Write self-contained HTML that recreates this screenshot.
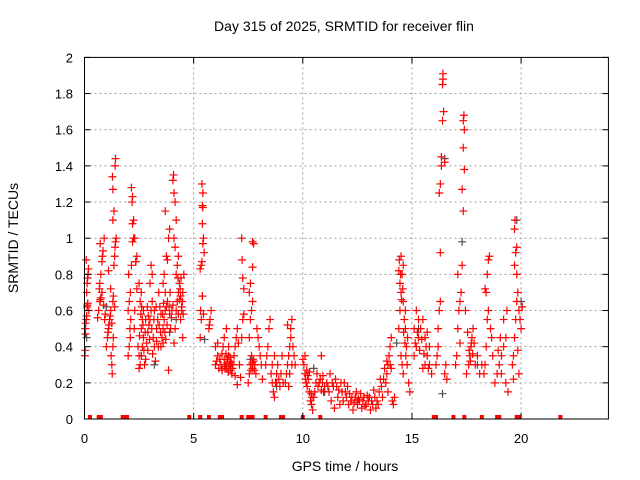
<!DOCTYPE html>
<html><head><meta charset="utf-8"><style>
body{margin:0;background:#fff;}
svg{display:block;font-family:"Liberation Sans",sans-serif;}
</style></head><body>
<svg id="chart" width="640" height="480" xmlns="http://www.w3.org/2000/svg">
<rect width="640" height="480" fill="#fff"/>
<text x="344" y="31" font-size="14" text-anchor="middle">Day 315 of 2025, SRMTID for receiver flin</text>
<text transform="translate(18,238) rotate(-90)" font-size="14" text-anchor="middle">SRMTID / TECUs</text>
<text x="345" y="471" font-size="14" text-anchor="middle">GPS time / hours</text>
<g id="grid"></g><g id="marks"></g><g id="axes"></g>
</svg>
<script>
const xTicks=[0,5,10,15,20];
const yTicks=[0,0.2,0.4,0.6,0.8,1,1.2,1.4,1.6,1.8,2];
const yTickLabels=["0","0.2","0.4","0.6","0.8","1","1.2","1.4","1.6","1.8","2"];
const zeroTimes=[0.25,0.65,0.75,1.75,1.85,1.95,4.8,5.3,5.7,6.2,6.3,7.2,7.5,7.6,7.7,8.3,9.0,9.1,10.0,10.8,16.0,16.1,16.9,17.4,18.2,18.9,19.0,19.8,19.9,21.8];
const redPts=[
[0.02,0.35],[0.03,0.38],[0.05,0.47],[0.04,0.5],[0.06,0.53],[0.08,0.55],[0.1,0.57],[0.12,0.62],[0.13,0.63],[0.15,0.64],[0.1,0.7],[0.12,0.75],[0.14,0.78],[0.16,0.8],[0.18,0.83],[0.08,0.88],[0.2,0.6],
[0.6,0.56],[0.65,0.6],[0.7,0.65],[0.72,0.66],[0.75,0.67],[0.8,0.7],[0.68,0.72],[0.7,0.75],[0.75,0.8],[0.8,0.87],[0.82,0.9],[0.85,0.93],[0.72,0.97],[0.9,1.0],[0.88,0.63],[0.92,0.55],[0.95,0.58],
[1.0,0.4],[1.05,0.45],[1.08,0.48],[1.1,0.5],[1.12,0.52],[1.15,0.55],[1.18,0.57],[1.2,0.6],[1.25,0.3],[1.27,0.25],[1.22,0.35],[1.3,0.65],[1.32,0.68],[1.35,0.85],[1.38,0.9],[1.4,0.95],[1.42,0.98],[1.45,1.0],[1.3,1.1],[1.35,1.15],[1.3,1.27],[1.28,1.34],[1.4,1.4],[1.42,1.44],[1.25,0.53],[1.32,0.45],[1.3,0.4],[1.38,0.62],[1.1,0.82],[1.2,0.72],
[2.0,0.35],[2.05,0.4],[2.1,0.45],[2.08,0.5],[2.12,0.55],[2.0,0.6],[2.05,0.65],[2.1,0.7],[2.02,0.8],[2.15,0.85],[2.35,0.87],[2.4,0.9],[2.2,0.98],[2.25,1.0],[2.2,1.08],[2.25,1.1],[2.18,1.2],[2.2,1.23],[2.15,1.28],[2.3,1.0],[2.35,0.87],[2.4,0.72],[2.3,0.6],[2.28,0.5],[2.45,0.4],[2.5,0.35],
[2.5,0.28],[2.55,0.3],[2.6,0.35],[2.65,0.4],[2.7,0.45],[2.6,0.5],[2.65,0.55],[2.7,0.6],[2.55,0.65],[2.6,0.7],[2.5,0.75],[2.75,0.3],[2.8,0.33],[2.85,0.42],[2.9,0.48],[2.95,0.52],[3.0,0.55],[3.05,0.6],[3.1,0.65],[3.0,0.75],[3.1,0.8],[3.05,0.85],[3.15,0.45],[3.2,0.4],[3.25,0.32],[3.3,0.5],[3.35,0.55],[3.4,0.7],[3.45,0.62],[3.5,0.58],[2.9,0.38],[2.8,0.55],[3.2,0.6],[3.3,0.43],
[2.52,0.46],[2.58,0.58],[2.68,0.52],[2.78,0.48],[2.88,0.62],[2.98,0.44],[3.08,0.5],[3.18,0.55],[3.28,0.62],[3.38,0.4],[3.48,0.48],[2.62,0.62],[2.72,0.38],[2.92,0.57],[3.12,0.36],[3.42,0.52],
[3.5,0.4],[3.55,0.45],[3.6,0.5],[3.65,0.55],[3.7,0.6],[3.75,0.62],[3.8,0.65],[3.7,0.7],[3.6,0.75],[3.65,0.8],[3.8,0.88],[3.75,0.9],[3.85,1.0],[3.9,1.05],[3.7,1.15],[3.9,0.58],[3.95,0.5],[4.0,0.6],[3.85,0.27],[3.6,0.42],[4.05,0.63],
[3.58,0.58],[3.68,0.48],[3.78,0.52],[3.88,0.62],[3.98,0.56],[3.62,0.64],[3.72,0.44],[3.92,0.7],
[4.1,0.42],[4.15,0.5],[4.2,0.6],[4.25,0.65],[4.3,0.7],[4.35,0.75],[4.2,0.8],[4.25,0.85],[4.3,0.9],[4.15,0.95],[4.1,1.0],[4.2,1.1],[4.15,1.2],[4.1,1.25],[4.05,1.32],[4.08,1.35],[4.4,0.55],[4.45,0.62],[4.5,0.7],[4.55,0.8],[4.5,0.45],[4.4,0.68],[4.3,0.58],[4.45,0.6],
[4.35,0.66],[4.38,0.72],[4.42,0.78],[4.48,0.65],[4.52,0.58],[4.28,0.78],
[5.3,0.83],[5.35,0.85],[5.38,0.87],[5.32,0.6],[5.35,0.55],[5.3,0.45],[5.4,0.68],[5.42,0.97],[5.45,1.0],[5.4,1.08],[5.42,1.17],[5.4,1.18],[5.42,1.25],[5.38,1.3],[5.48,0.92],[5.45,0.58],
[5.7,0.5],[5.75,0.55],[5.8,0.6],[5.72,0.52],
[6.0,0.3],[6.05,0.32],[6.1,0.35],[6.15,0.28],[6.2,0.33],[6.0,0.4],[6.1,0.42],[6.25,0.3],[6.3,0.36],[6.35,0.4],[6.4,0.45],[6.45,0.3],[6.5,0.28],[6.55,0.33],[6.6,0.35],[6.65,0.3],[6.7,0.27],[6.5,0.5],[6.6,0.4],[6.75,0.25],[6.8,0.3],[6.85,0.35],[6.9,0.4],[6.95,0.45],[7.0,0.5],[7.05,0.42],[7.1,0.3],[7.15,0.23],[7.0,0.19],[6.9,0.24],[6.4,0.33],[6.3,0.27],[6.7,0.32],
[6.52,0.31],[6.58,0.26],[6.62,0.29],[6.68,0.34],[6.72,0.31],[6.78,0.28],[6.48,0.36],[6.42,0.29],
[7.2,0.45],[7.25,0.55],[7.3,0.72],[7.25,0.78],[7.22,0.88],[7.2,1.0],[7.3,0.58],
[7.5,0.2],[7.55,0.25],[7.6,0.3],[7.65,0.35],[7.7,0.28],[7.75,0.32],[7.8,0.3],[7.55,0.45],[7.6,0.55],[7.65,0.6],[7.7,0.65],[7.55,0.7],[7.6,0.75],[7.7,0.84],[7.75,0.97],[7.7,0.98],[7.9,0.5],[7.95,0.45],[8.0,0.4],[8.05,0.35],[7.85,0.25],[8.1,0.3],[8.15,0.22],
[7.62,0.27],[7.68,0.31],[7.72,0.33],[7.78,0.27],
[8.3,0.3],[8.35,0.35],[8.4,0.4],[8.45,0.5],[8.5,0.55],[8.55,0.25],[8.6,0.2],[8.65,0.15],[8.7,0.12],[8.75,0.2],[8.8,0.25],[8.85,0.3],[8.9,0.22],[8.95,0.18],[9.0,0.25],[9.05,0.35],[8.6,0.3],[8.7,0.35],[8.8,0.2],[9.1,0.2],
[9.2,0.2],[9.25,0.25],[9.3,0.3],[9.35,0.35],[9.4,0.4],[9.45,0.5],[9.5,0.55],[9.3,0.52],[9.4,0.25],[9.5,0.3],[9.6,0.35],[9.55,0.4],[9.45,0.45],[9.35,0.18],[9.65,0.3],
[10.0,0.33],[10.05,0.3],[10.1,0.25],[10.15,0.2],[10.2,0.18],[10.25,0.22],[10.3,0.15],[10.35,0.1],[10.4,0.08],[10.45,0.05],[10.5,0.12],[10.55,0.15],[10.6,0.2],[10.65,0.25],[10.7,0.18],[10.8,0.22],[10.85,0.35],[10.9,0.2],[10.95,0.15],[11.0,0.18],[10.1,0.35],[10.3,0.26],
[10.12,0.22],[10.18,0.27],[10.22,0.24],[10.38,0.14],[10.42,0.12],[10.75,0.2],[10.85,0.16],[10.92,0.24],
[11.1,0.2],[11.2,0.15],[11.3,0.1],[11.4,0.18],[11.5,0.22],[11.6,0.12],[11.7,0.08],[11.8,0.15],[11.9,0.2],[12.0,0.12],[12.1,0.08],[12.2,0.1],[12.3,0.05],[12.4,0.12],[12.5,0.08],[12.6,0.1],[12.7,0.06],[12.8,0.12],[12.9,0.08],[13.0,0.1],[13.1,0.05],[13.2,0.08],[13.3,0.12],[13.4,0.1],[13.5,0.15],[13.6,0.18],[13.7,0.22],[11.25,0.25],[11.55,0.18],[11.85,0.1],[12.15,0.14],[12.45,0.15],[12.75,0.1],[13.05,0.12],[13.35,0.06],[13.65,0.12],[11.45,0.06],[12.05,0.18],[12.65,0.14],[13.25,0.16],
[11.15,0.18],[11.35,0.2],[11.65,0.16],[11.75,0.2],[11.95,0.15],[12.25,0.12],[12.35,0.09],[12.55,0.11],[12.85,0.07],[12.95,0.13],[13.15,0.1],[13.45,0.08],[13.55,0.22],[13.75,0.28],
[13.8,0.2],[13.85,0.25],[13.9,0.3],[13.95,0.35],[14.0,0.4],[14.05,0.45],[14.0,0.3],[13.9,0.15],[14.1,0.1],[14.15,0.08],[14.2,0.12],[13.85,0.32],[14.05,0.28],
[14.4,0.5],[14.45,0.6],[14.5,0.7],[14.55,0.8],[14.6,0.85],[14.5,0.9],[14.45,0.75],[14.6,0.65],[14.65,0.55],[14.7,0.5],[14.75,0.4],[14.5,0.35],[14.55,0.3],[14.6,0.25],[14.8,0.45],[14.85,0.2],[14.9,0.15],[14.7,0.6],[14.4,0.82],
[14.42,0.88],[14.48,0.8],[14.52,0.66],[14.58,0.72],[14.62,0.48],[14.68,0.42],[14.72,0.35],[14.78,0.3],
[15.1,0.35],[15.2,0.4],[15.3,0.45],[15.4,0.5],[15.5,0.55],[15.6,0.3],[15.7,0.35],[15.8,0.4],[15.9,0.25],[15.2,0.6],[15.3,0.55],[15.5,0.28],[15.6,0.45],[15.7,0.48],[15.1,0.5],[15.8,0.3],
[15.15,0.42],[15.25,0.48],[15.35,0.38],[15.45,0.44],[15.55,0.36],[15.65,0.4],[15.75,0.28],
[16.1,0.3],[16.15,0.35],[16.2,0.5],[16.25,0.6],[16.3,0.65],[16.2,0.4],[16.3,0.92],[16.25,1.25],[16.3,1.3],[16.35,1.4],[16.35,1.45],[16.4,1.65],[16.45,1.7],[16.4,1.85],[16.42,1.88],[16.42,1.91],[16.5,0.25],[16.55,0.3],[16.6,0.22],[16.5,1.42],
[17.0,0.3],[17.05,0.35],[17.1,0.5],[17.15,0.6],[17.2,0.65],[17.25,0.7],[17.1,0.8],[17.3,0.85],[17.35,1.15],[17.3,1.27],[17.4,1.38],[17.35,1.5],[17.4,1.6],[17.35,1.65],[17.38,1.68],[17.2,0.42],[17.45,0.6],
[17.5,0.25],[17.6,0.3],[17.65,0.35],[17.7,0.4],[17.75,0.45],[17.8,0.5],[17.9,0.3],[18.0,0.35],[18.1,0.25],[17.55,0.48],[17.85,0.42],[18.2,0.3],
[17.62,0.38],[17.68,0.32],[17.72,0.42],[17.78,0.36],
[18.3,0.25],[18.35,0.3],[18.4,0.4],[18.45,0.55],[18.5,0.6],[18.4,0.7],[18.45,0.8],[18.5,0.88],[18.55,0.9],[18.6,0.5],[18.65,0.45],[18.7,0.35],[18.35,0.72],
[18.8,0.2],[18.9,0.25],[19.0,0.3],[19.1,0.35],[19.2,0.4],[19.3,0.45],[19.35,0.6],[19.4,0.15],[19.3,0.2],[19.1,0.25],[19.2,0.55],[18.95,0.38],[19.05,0.45],
[19.6,0.3],[19.65,0.35],[19.7,0.45],[19.75,0.55],[19.8,0.65],[19.85,0.7],[19.8,0.8],[19.7,0.85],[19.75,0.92],[19.8,0.95],[19.7,1.05],[19.72,1.1],[19.9,0.6],[19.95,0.55],[20.0,0.5],[20.05,0.62],[19.9,0.25],[19.85,0.38],[19.65,0.22]
];
const grayPts=[[0.1,0.45],[1.0,0.62],[2.6,0.35],[3.2,0.3],[4.2,0.55],[5.4,0.68],[5.5,0.44],[6.3,0.27],[7.6,0.33],[8.8,0.18],[10.5,0.28],[12.5,0.1],[14.3,0.42],[15.3,0.5],[16.4,0.14],[16.5,1.44],[17.3,0.98],[18.0,0.3],[19.8,1.1],[20.0,0.65],[11.0,0.15],[3.9,0.48]];
const X0=84.5,XS=21.83,Y0=419,YS=180.8;
const xScale=t=>X0+t*XS, yScale=v=>Y0-v*YS;
const NS="http://www.w3.org/2000/svg";
function mk(tag,attrs,parent){const e=document.createElementNS(NS,tag);for(const k in attrs)e.setAttribute(k,attrs[k]);parent.appendChild(e);return e;}
const grid=document.getElementById('grid'),marks=document.getElementById('marks'),axes=document.getElementById('axes');
const PR=xScale(24),PT=yScale(2);
xTicks.forEach(t=>{const x=xScale(t);
 if(t>0){const g=mk('line',{x1:x,x2:x,y1:PT,y2:Y0,stroke:'#a0a0a0','stroke-dasharray':'2,3'},grid);
 
 }
 const tl=mk('line',{x1:x,x2:x,y1:Y0,y2:Y0-6,stroke:'#000'},axes);
 const tl2=mk('line',{x1:x,x2:x,y1:PT,y2:PT+6,stroke:'#000'},axes);
 const tx=mk('text',{x:x,y:443,'font-size':13,'text-anchor':'middle',fill:'#000'},axes);tx.textContent=t;
 
 });
yTicks.forEach((v,i)=>{const y=yScale(v);
 if(v>0&&v<2){const g=mk('line',{x1:X0,x2:PR,y1:y,y2:y,stroke:'#a0a0a0','stroke-dasharray':'2,3'},grid);
 
 }
 const tl=mk('line',{x1:X0,x2:X0+6,y1:y,y2:y,stroke:'#000'},axes);
 const tl2=mk('line',{x1:PR,x2:PR-6,y1:y,y2:y,stroke:'#000'},axes);
 const tx=mk('text',{x:73,y:y+5,'font-size':13,'text-anchor':'end',fill:'#000'},axes);tx.textContent=yTickLabels[i];
 
 });
const fr=mk('rect',{x:X0,y:PT,width:PR-X0,height:Y0-PT,fill:'none',stroke:'#000'},axes);


function cross(t,v,col,name){const x=xScale(t),y=yScale(v);
 const p=mk('path',{d:`M${x-4},${y}h8M${x},${y-4}v8`,stroke:col,'stroke-width':1.2,fill:'none'},marks);
 
 }
grayPts.forEach(p=>cross(p[0],p[1],'#505050','gray-point'));
redPts.forEach(p=>cross(p[0],p[1],'#ff0000','red-point'));
zeroTimes.forEach(t=>{const x=xScale(t);
 const r=mk('rect',{x:x-2,y:Y0-4,width:4,height:4,fill:'#ff0000'},marks);
 
 });
</script>
</body></html>
